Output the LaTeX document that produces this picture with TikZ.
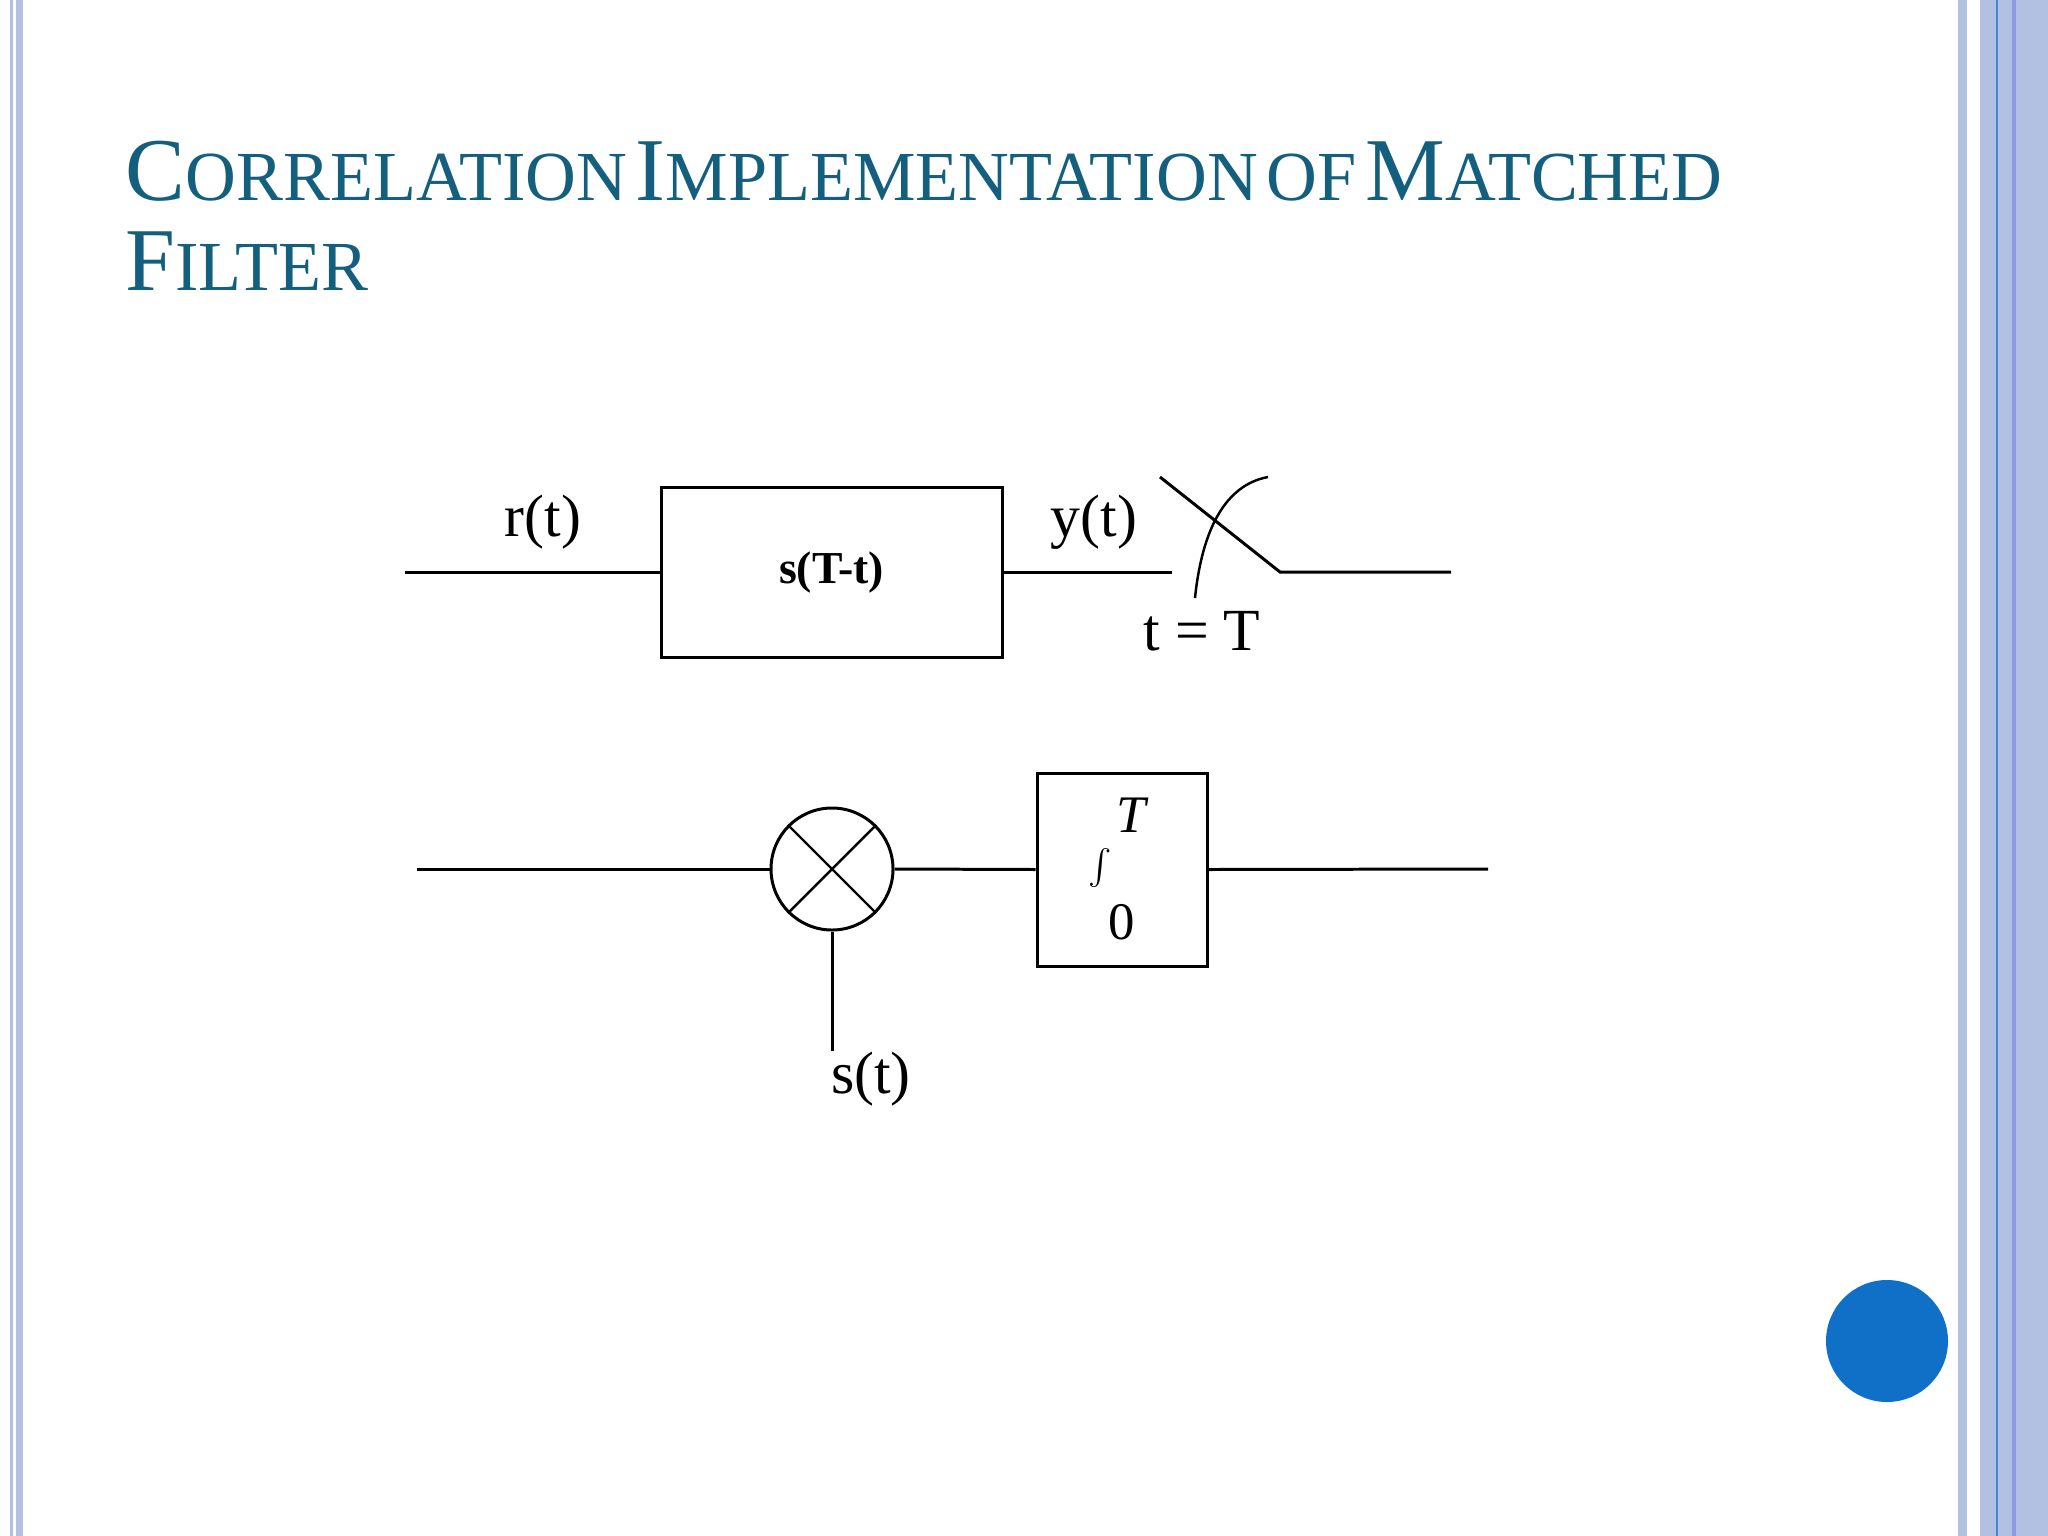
\documentclass[tikz,border=0pt]{standalone}
\usepackage{fontspec}
\setmainfont{Liberation Serif}
\newcommand{\fsc}[2]{{\fontsize{25.5}{30}\selectfont #1}{\fontsize{20}{24}\selectfont #2}}
\begin{document}
\begin{tikzpicture}[x=0.01cm,y=-0.01cm,
  wire/.style={line width=0.85pt},
  lbl/.style={font=\fontsize{17}{20}\selectfont,inner sep=0pt}]
\useasboundingbox (0,0) rectangle (2048,1536);
\fill[white] (0,0) rectangle (2048,1536);
\definecolor{strip}{RGB}{178,192,226}
\definecolor{titlec}{RGB}{20,95,125}
\definecolor{dotc}{RGB}{16,112,200}
\fill[strip] (10,0) rectangle (13,1536);
\fill[strip] (16,0) rectangle (23,1536);
\fill[strip] (1958,0) rectangle (1967,1536);
\fill[strip] (1980,0) rectangle (2048,1536);
\fill[dotc!70!strip] (1996,0) rectangle (1998,1536);
\fill[strip!80!blue] (2012,0) rectangle (2016,1536);
\node[anchor=base west,inner sep=0pt,text=titlec] (t1) at (125,200) {\fsc{C}{ORRELATION}\ \fsc{I}{MPLEMENTATION}\ \fsc{}{OF}\ \fsc{M}{ATCHED}};
\node[anchor=base west,inner sep=0pt,text=titlec] (t2) at (125,290) {\fsc{F}{ILTER}};
% top
\node[draw,wire,minimum width=341*0.01cm,minimum height=170*0.01cm,inner sep=0pt,font=\bfseries\fontsize{13}{15}\selectfont] (box) at (831.5,572) {s(T-t)};
\coordinate (in) at (405,572);
\coordinate (sw1) at (1172,572);
\coordinate (swa) at (1160,477);
\coordinate (swb) at (1280,572);
\coordinate (out) at (1451,572);
\coordinate (arc1) at (1195,598);
\coordinate (arc2) at (1268,477);
\draw[wire] (in) -- (box.west);
\draw[wire] (box.east) -- (sw1);
\draw[wire] (swa) -- (swb) -- (out);
\draw[line width=0.7pt] (arc1) .. controls (1202,530) and (1225,485) .. (arc2);
\node[lbl] (rt) at (543,522) {r(t)};
\node[lbl] (yt) at (1094,522) {y(t)};
\node[lbl] (tT) at (1202,631) {t = T};
% bottom
\node[circle,draw,wire,minimum size=122*0.01cm,inner sep=0pt] (mul) at (832,869) {};
\draw[line width=0.7pt] (mul.north west) -- (mul.south east) (mul.south west) -- (mul.north east);
\node[draw,wire,minimum width=170*0.01cm,minimum height=193*0.01cm,inner sep=0pt] (intb) at (1122,869.5) {};
\coordinate (bin) at (417,869);
\coordinate (bout) at (1488,869);
\coordinate (sv) at (832,1051);
\draw[wire] (bin) -- (mul.west);
\draw[wire] (mul.east) -- (intb.west);
\draw[wire] (intb.east) -- (bout);
\draw[wire] (mul.south) -- (sv);
\node[inner sep=0pt,font=\fontsize{36}{40}\selectfont] (int) at (1100,869) {$\int$};
\node[inner sep=0pt,font=\fontsize{15}{18}\selectfont\itshape] (iT) at (1131,815) {T};
\node[inner sep=0pt,font=\fontsize{15}{18}\selectfont] (i0) at (1122,922) {0};
\node[lbl] (s) at (871,1079) {s(t)};
\fill[dotc] (1887,1341) circle (61);
\end{tikzpicture}
\end{document}
